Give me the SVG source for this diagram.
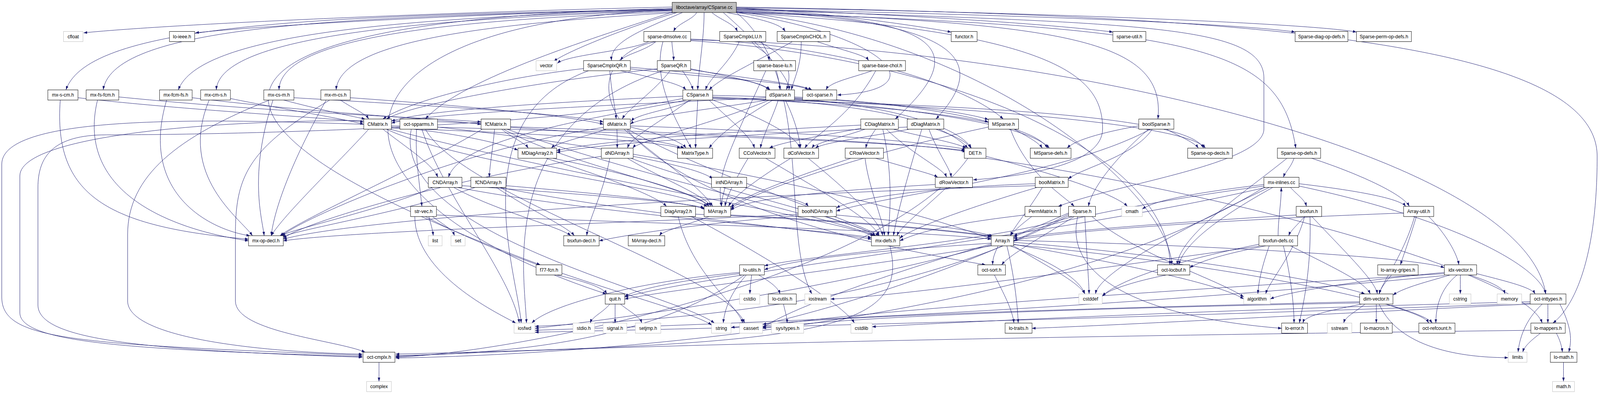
<svg xmlns="http://www.w3.org/2000/svg" width="4513" height="1008" viewBox="0 0 4513 1008">
<defs>
<marker id="a" markerWidth="10" markerHeight="7" refX="10" refY="3.5" orient="auto" markerUnits="userSpaceOnUse"><path d="M0,0L10,3.5L0,7z" fill="#191970"/></marker>
<style>
.e path{fill:none;stroke:#191970;stroke-width:1;marker-end:url(#a)}
.n rect{fill:#fff;stroke:#000;stroke-width:1}
.s rect{fill:#fff;stroke:#bfbfbf;stroke-width:1}
.r rect{fill:#bfbfbf;stroke:#000;stroke-width:1}
text{font-family:"Liberation Sans",Arial,Helvetica,sans-serif;font-size:13.33px;text-anchor:middle;fill:#000}
</style>
</defs>
<rect width="4513" height="1008" fill="#fff"/>
<g id="diagram" transform="scale(0.9076 1)">
<g id="connectors" class="e">
<path d="M1896,18 C1300,30 500,60 236,84"/>
<path d="M1896,22 C1400,35 800,60 551,84"/>
<path d="M1896,24 C900,40 250,60 186,230"/>
<path d="M1896,25 C1000,42 320,60 291,230"/>
<path d="M1896,26 C1100,45 560,90 503,230"/>
<path d="M1896,27 C1200,48 620,90 610,230"/>
<path d="M1900,30 C1300,50 790,90 787,230"/>
<path d="M1905,32 C1400,60 960,100 948,230"/>
<path d="M1910,32 C1800,60 1600,130 1562,157"/>
<path d="M1925,32 C1800,80 1720,110 1725,155"/>
<path d="M1965,32 C1955,50 1910,60 1900,80.5"/>
<path d="M1986,32 C1986,100 1970,180 1968,230"/>
<path d="M2008,32 C2030,50 2070,60 2080,80.5"/>
<path d="M2050,32 C2150,50 2200,60 2215,80.5"/>
<path d="M2077,20 C2300,30 2550,60 2683,82"/>
<path d="M2077,22 C2500,35 2950,60 3139,82"/>
<path d="M2077,24 C2800,35 3500,60 3653,82"/>
<path d="M2077,20 C2900,30 3700,60 3826,82"/>
<path d="M1900,30 C1700,90 1300,200 1200,304.5"/>
<path d="M2077,28 C2700,50 2800,150 2640,304.5"/>
<path d="M2077,26 C2650,45 2750,120 2525,304.5"/>
<path d="M2077,30 C3000,60 3290,100 3266,304.5"/>
<path d="M2077,32 C3400,70 3610,120 3655,379"/>
<path d="M2077,32 C2500,90 2650,230 2362,243"/>
<path d="M2040,32 C2150,120 2230,200 2225,230"/>
<path d="M2077,30 C2800,100 3300,500 3305,677.5"/>
<path d="M1896,22 C500,50 400,300 1524,677.5"/>
<path d="M1896,26 C860,60 860,500 1710,752"/>
<path d="M2077,32 C2300,200 2200,600 2290,752"/>
<path d="M2077,18 C3500,40 4505,100 4505,400 C4505,700 4420,800 4380,826.5"/>
<path d="M2077,32 C3000,80 3110,200 3110,330 C3110,420 2900,450 2745,460"/>
<path d="M2077,24 C3200,60 3565,60 3565,200 L3565,330 C3565,420 3150,470 2985,528"/>
<path d="M1830,106.5 C1780,130 1600,140 1572,162"/>
<path d="M1850,106.5 C1820,130 1760,140 1750,155"/>
<path d="M1895,106.5 C1897,130 1900,140 1900,155"/>
<path d="M1870,106.5 C1840,200 1900,300 1950,379"/>
<path d="M1948,100 C2300,110 2700,200 2830,304.5"/>
<path d="M1850,106.5 C1600,150 1600,500 2780,677.5"/>
<path d="M1948,104 C2700,150 3300,400 3300,677.5"/>
<path d="M1948,102 C3000,120 4300,400 4360,752"/>
<path d="M2120,106.5 C2140,130 2165,130 2170,155"/>
<path d="M2085,106.5 C2060,160 2000,200 1990,230"/>
<path d="M2140,106.5 C2240,150 2230,200 2218,230"/>
<path d="M2305,106.5 C2380,130 2440,140 2450,155"/>
<path d="M2235,106.5 C2150,150 2030,200 2000,230"/>
<path d="M2260,106.5 C2260,170 2240,200 2232,230"/>
<path d="M1720,181 C1725,240 1735,270 1738,304.5"/>
<path d="M1650,175 C1400,200 1150,260 1080,304.5"/>
<path d="M1778,172 C2000,190 2130,200 2170,230"/>
<path d="M1750,181 C1850,200 1920,215 1935,230"/>
<path d="M1778,176 C2000,200 2250,210 2280,230"/>
<path d="M1660,181 C1300,300 1460,700 1470,826.5"/>
<path d="M1890,181 C1850,230 1770,280 1755,304.5"/>
<path d="M1854,176 C1500,210 1150,270 1090,304.5"/>
<path d="M1948,176 C2050,195 2150,210 2172,230"/>
<path d="M1925,181 C1940,200 1950,215 1955,230"/>
<path d="M1948,178 C2100,200 2260,215 2290,230"/>
<path d="M1870,181 C1400,320 1480,700 1485,826.5"/>
<path d="M2190,181 C2195,200 2198,210 2200,230"/>
<path d="M2160,181 C2050,400 2020,450 2035,528"/>
<path d="M2460,181 C2400,200 2340,210 2330,230"/>
<path d="M2470,181 C2400,300 2290,350 2270,379"/>
<path d="M1950,256 C1900,280 1800,290 1780,310"/>
<path d="M1945,256 C1850,320 1780,350 1770,379"/>
<path d="M2000,256 C2050,300 2120,350 2128,379"/>
<path d="M2010,256 C2150,300 2250,350 2255,379"/>
<path d="M1926,252 C1500,330 600,345 300,345 C150,345 107,400 107,480 L107,780 C107,870 400,895 1022,914"/>
<path d="M2010,248 C2400,260 2650,300 2730,379"/>
<path d="M2010,244 C2400,250 2700,280 2788,306"/>
<path d="M2010,250 C2500,270 2900,300 2955,379"/>
<path d="M2010,252 C2800,270 3350,300 3395,379"/>
<path d="M1968,256 C1966,300 1962,340 1962,379"/>
<path d="M1926,246 C1600,260 1200,280 1104,310"/>
<path d="M1935,256 C1700,300 1300,350 1265,453.5"/>
<path d="M2165,256 C2000,280 1800,300 1778,318"/>
<path d="M2170,256 C2000,320 1800,360 1785,379"/>
<path d="M2160,250 C1700,270 1200,290 1104,315"/>
<path d="M2215,256 C2240,300 2255,350 2258,379"/>
<path d="M2195,256 C2180,300 2150,350 2145,379"/>
<path d="M2241,252 C2500,270 2700,320 2740,379"/>
<path d="M2241,248 C2500,260 2700,290 2788,312"/>
<path d="M2241,254 C2600,280 2900,320 2960,379"/>
<path d="M2241,256 C2800,280 3350,320 3400,379"/>
<path d="M2180,256 C2100,300 2030,340 2000,379"/>
<path d="M1090,330.5 C1300,420 1900,480 1995,528"/>
<path d="M1104,325 C1300,340 1420,370 1461,384"/>
<path d="M1104,328 C1500,340 1850,360 1920,379"/>
<path d="M1100,330.5 C1600,450 2300,550 2465,603"/>
<path d="M1040,330.5 C950,420 800,550 765,603"/>
<path d="M1026,318 C600,305 5,290 5,420 L5,760 C5,870 200,880 1022,909"/>
<path d="M1104,322 C1800,340 2500,360 2722,385"/>
<path d="M1080,330.5 C1150,380 1220,420 1235,453.5"/>
<path d="M1420,330.5 C1600,420 1950,480 2000,528"/>
<path d="M1415,330.5 C1440,350 1480,365 1490,379"/>
<path d="M1440,326 C1700,340 1880,360 1930,379"/>
<path d="M1430,330.5 C1800,450 2350,560 2470,603"/>
<path d="M1360,330.5 C1200,420 850,560 790,603"/>
<path d="M1357,316 C800,290 56,330 56,450 L56,800 C56,880 400,895 1022,912"/>
<path d="M1440,324 C1900,340 2550,360 2725,388"/>
<path d="M1395,330.5 C1390,380 1382,420 1380,453.5"/>
<path d="M1760,330.5 C1850,400 1980,480 2010,528"/>
<path d="M1710,330.5 C1650,350 1570,365 1555,379"/>
<path d="M1778,325 C1850,340 1920,360 1935,379"/>
<path d="M1770,330.5 C2000,450 2400,560 2480,603"/>
<path d="M1702,326 C1300,380 850,560 795,603"/>
<path d="M1778,322 C2200,335 2600,360 2725,382"/>
<path d="M1740,330.5 C1741,350 1741,360 1741,379"/>
<path d="M1200,330.5 C1300,500 2050,700 2100,826.5"/>
<path d="M1234,325 C2000,400 3000,600 3060,752"/>
<path d="M1190,330.5 C1250,500 1440,700 1465,826.5"/>
<path d="M1160,330.5 C1100,600 1900,750 2015,826.5"/>
<path d="M1175,330.5 C1170,400 1185,480 1190,528"/>
<path d="M2428,320 C2000,340 1700,360 1570,385"/>
<path d="M2500,330.5 C2580,400 2660,430 2670,453.5"/>
<path d="M2470,330.5 C2455,350 2445,365 2442,379"/>
<path d="M2440,330.5 C2380,350 2300,365 2290,379"/>
<path d="M2430,328 C2300,350 2200,365 2170,379"/>
<path d="M2520,330.5 C2600,350 2700,365 2725,379"/>
<path d="M2490,330.5 C2520,450 2510,550 2505,603"/>
<path d="M2559,325 C2100,345 1700,365 1570,390"/>
<path d="M2620,330.5 C2650,400 2680,430 2683,453.5"/>
<path d="M2565,330.5 C2450,350 2320,365 2300,379"/>
<path d="M2640,330.5 C2700,350 2730,365 2738,379"/>
<path d="M2600,330.5 C2560,450 2530,550 2520,603"/>
<path d="M2788,325 C2400,400 2100,500 2061,535"/>
<path d="M2850,330.5 C2900,450 3000,500 3030,528"/>
<path d="M2860,330.5 C2900,350 2930,365 2940,379"/>
<path d="M3240,330.5 C3150,400 3080,480 3070,528"/>
<path d="M3212,322 C3100,340 3030,360 3010,379"/>
<path d="M3290,330.5 C3330,350 3370,365 3380,379"/>
<path d="M3250,330.5 C3200,400 3050,430 3013,458"/>
<path d="M3245,330.5 C3000,450 2500,500 2359,540"/>
<path d="M1540,405 C1700,450 1850,500 1880,528"/>
<path d="M1560,405 C1800,450 1980,500 2000,528"/>
<path d="M1786,400 C1900,420 1990,440 2010,458"/>
<path d="M1770,405 C1850,450 1990,500 2005,528"/>
<path d="M1780,405 C2000,480 2400,560 2470,603"/>
<path d="M1696,400 C1300,450 850,570 799,610"/>
<path d="M1720,405 C1700,500 1660,560 1655,603"/>
<path d="M2110,405 C2080,450 2050,500 2045,528"/>
<path d="M2160,405 C2300,480 2460,560 2480,603"/>
<path d="M2230,405 C2150,450 2070,500 2055,528"/>
<path d="M2280,405 C2380,480 2480,560 2490,603"/>
<path d="M2400,405 C2250,450 2100,500 2061,530"/>
<path d="M2470,405 C2560,430 2630,445 2645,453.5"/>
<path d="M2440,405 C2450,480 2490,560 2495,603"/>
<path d="M2781,400 C3000,450 3150,500 3180,528"/>
<path d="M2730,405 C2500,700 1500,900 1116,914"/>
<path d="M2781,405 C3500,500 4300,700 4350,826.5"/>
<path d="M3700,405 C3850,450 3960,500 3975,528"/>
<path d="M3630,405 C3500,500 3330,600 3320,677.5"/>
<path d="M3650,405 C3640,430 3625,440 3620,453.5"/>
<path d="M1303,475 C1700,500 1950,520 1986,532"/>
<path d="M1290,479.5 C1700,550 2350,590 2458,608"/>
<path d="M1220,479.5 C1100,530 850,580 790,603"/>
<path d="M1280,479.5 C1400,540 1580,580 1610,603"/>
<path d="M1427,475 C1750,500 1960,520 1988,536"/>
<path d="M1410,479.5 C1800,550 2370,595 2458,612"/>
<path d="M1340,479.5 C1150,540 850,585 795,606"/>
<path d="M1400,479.5 C1500,540 1600,580 1620,603"/>
<path d="M2045,479.5 C2040,500 2035,510 2035,528"/>
<path d="M2100,479.5 C2200,500 2270,515 2280,528"/>
<path d="M2638,472 C2300,490 2100,510 2061,538"/>
<path d="M2670,479.5 C2600,540 2540,580 2530,603"/>
<path d="M2940,479.5 C2900,540 2860,580 2850,603"/>
<path d="M2925,479.5 C2700,540 2560,590 2538,610"/>
<path d="M2920,475 C2000,500 1000,560 799,612"/>
<path d="M2920,470 C2600,480 2400,510 2359,532"/>
<path d="M3580,479.5 C3300,600 3100,700 3090,752"/>
<path d="M3565,472 C3400,490 3260,510 3222,535"/>
<path d="M3570,479.5 C3000,600 2000,700 1762,760"/>
<path d="M3565,479.5 C3000,800 1800,905 1116,916"/>
<path d="M3590,479.5 C3450,550 3340,620 3325,677.5"/>
<path d="M3664,476 C4100,560 4340,680 4360,752"/>
<path d="M3565,476 C3200,520 2900,580 2859,608"/>
<path d="M3664,470 C3850,490 3950,510 3965,528"/>
<path d="M3640,479.5 C3660,500 3680,510 3685,528"/>
<path d="M1170,554 C1170,700 1400,800 1455,826.5"/>
<path d="M1210,554 C1215,575 1220,585 1222,603"/>
<path d="M1220,554 C1250,575 1275,585 1282,603"/>
<path d="M1200,554 C1500,700 1950,790 2007,832"/>
<path d="M1231,550 C1800,570 2600,590 2796,612"/>
<path d="M1913,554 C1950,700 2080,780 2095,826.5"/>
<path d="M1950,554 C2150,650 2380,780 2410,826.5"/>
<path d="M1962,548 C2300,560 2700,590 2796,606"/>
<path d="M2061,550 C2400,565 2700,590 2796,604"/>
<path d="M2000,554 C1940,575 1870,590 1860,603"/>
<path d="M2359,550 C2600,570 2750,590 2800,604"/>
<path d="M2330,554 C2400,575 2450,590 2470,603"/>
<path d="M2251,548 C1800,570 1000,590 799,616"/>
<path d="M2251,552 C2000,570 1800,595 1690,616"/>
<path d="M2910,554 C2880,575 2860,590 2850,603"/>
<path d="M2891,550 C2700,570 2600,590 2538,616"/>
<path d="M3014,548 C2700,700 2300,800 2151,830"/>
<path d="M3060,554 C3065,650 3070,700 3072,752"/>
<path d="M3014,552 C2500,800 1800,820 1509,835"/>
<path d="M3080,554 C3200,650 3450,720 3508,760"/>
<path d="M3014,545 C2950,570 2900,590 2859,603"/>
<path d="M3040,554 C3000,700 3200,810 3615,840"/>
<path d="M3025,554 C2800,620 2300,650 2156,680"/>
<path d="M3030,554 C2950,600 2850,650 2825,677.5"/>
<path d="M3680,554 C3650,650 3580,720 3570,752"/>
<path d="M3656,550 C3300,570 3000,590 2859,610"/>
<path d="M3700,554 C3800,650 3880,720 3885,752"/>
<path d="M3695,554 C3700,700 3670,800 3665,826.5"/>
<path d="M3680,554 C3660,575 3640,590 3635,603"/>
<path d="M3959,545 C3500,560 3000,590 2859,615"/>
<path d="M3990,554 C3960,650 3900,720 3890,752"/>
<path d="M4030,554 C4080,600 4110,650 4115,677.5"/>
<path d="M3995,554 C3980,600 3960,650 3950,677.5"/>
<path d="M2796,624 C2500,700 2200,800 2151,840"/>
<path d="M2859,629 C2950,680 3040,720 3060,752"/>
<path d="M2859,625 C3200,680 3450,730 3508,765"/>
<path d="M2796,627 C2300,750 1700,820 1509,840"/>
<path d="M2859,620 C3300,650 3750,720 3850,752"/>
<path d="M2859,615 C3500,630 4000,660 4074,685"/>
<path d="M2840,629 C2860,700 2870,780 2872,826.5"/>
<path d="M2796,622 C2500,640 2250,660 2156,690"/>
<path d="M2815,629 C2805,650 2800,660 2800,677.5"/>
<path d="M2796,629 C2300,700 1900,740 1762,765"/>
<path d="M2859,626 C3500,680 4000,780 4040,826.5"/>
<path d="M3640,629 C3750,680 3850,720 3865,752"/>
<path d="M3570,629 C3450,650 3380,670 3356,685"/>
<path d="M3620,629 C3640,700 3650,780 3650,826.5"/>
<path d="M3605,603 C3605,560 3614,520 3614,479.5"/>
<path d="M3580,629 C3560,680 3550,720 3548,752"/>
<path d="M3551,625 C3300,670 3150,720 3109,758"/>
<path d="M3551,630 C3000,700 2500,760 2343,765"/>
<path d="M2510,629 C2570,850 2300,880 1116,906"/>
<path d="M1570,703.5 C1650,720 1700,735 1712,752"/>
<path d="M2120,703.5 C2118,720 2116,735 2115,752"/>
<path d="M2086,697 C1800,720 1550,780 1500,826.5"/>
<path d="M2105,703.5 C2070,740 2045,780 2040,826.5"/>
<path d="M2100,703.5 C1800,900 1300,905 1116,910"/>
<path d="M2140,703.5 C2170,720 2195,735 2200,752"/>
<path d="M2086,700 C1900,720 1800,740 1762,758"/>
<path d="M2805,703.5 C2830,750 2855,790 2860,826.5"/>
<path d="M3290,703.5 C3200,720 3130,740 3109,757"/>
<path d="M3925,703.5 C3910,720 3895,735 3890,752"/>
<path d="M4074,700 C3000,760 2400,800 2151,835"/>
<path d="M4119,703.5 C4119,720 4119,735 4119,752"/>
<path d="M4074,697 C3800,720 3620,750 3583,765"/>
<path d="M4074,705 C3000,800 2000,830 1509,845"/>
<path d="M4145,703.5 C4200,720 4240,735 4245,752"/>
<path d="M4090,703.5 C4030,720 3960,735 3929,755"/>
<path d="M4165,700 C4250,720 4320,735 4330,752"/>
<path d="M4110,703.5 C4060,740 4050,790 4050,826.5"/>
<path d="M1720,778 C1700,800 1670,810 1665,826.5"/>
<path d="M1735,778 C1735,800 1735,810 1735,826.5"/>
<path d="M1750,778 C1780,800 1805,810 1810,826.5"/>
<path d="M2210,778 C2215,800 2220,810 2220,826.5"/>
<path d="M3835,775 C3000,790 2400,810 2151,840"/>
<path d="M3850,778 C3820,800 3795,810 3790,826.5"/>
<path d="M3835,772 C3000,790 2300,810 2062,838"/>
<path d="M3890,778 C3950,900 4150,915 4254,915"/>
<path d="M3840,778 C3720,800 3680,810 3675,826.5"/>
<path d="M3882,778 C3882,800 3882,810 3882,826.5"/>
<path d="M3910,778 C3980,800 4020,810 4030,826.5"/>
<path d="M4316,772 C3500,790 2800,820 2460,836"/>
<path d="M4350,778 C4300,820 4285,870 4282,901"/>
<path d="M4316,776 C3000,820 2000,840 1509,850"/>
<path d="M4316,778 C3800,800 3200,830 2911,840"/>
<path d="M4400,778 C4440,850 4430,880 4425,901"/>
<path d="M4366,778 C4366,800 4366,810 4366,826.5"/>
<path d="M4345,852.5 C4320,870 4300,885 4295,901"/>
<path d="M4318,845 C3000,860 1800,880 1116,912"/>
<path d="M4390,852.5 C4400,870 4405,885 4407,901"/>
<path d="M4410,927 C4410,950 4410,960 4410,976"/>
<path d="M1069,927 C1069,950 1069,960 1069,976"/>
<path d="M220,250 C500,280 900,300 1026,312"/>
<path d="M170,256 C150,500 300,580 701,612"/>
<path d="M335,248 C800,290 1200,300 1357,312"/>
<path d="M275,256 C210,500 500,590 701,616"/>
<path d="M542,250 C900,290 1250,305 1357,318"/>
<path d="M470,256 C390,500 600,590 705,603"/>
<path d="M650,252 C800,280 950,300 1026,318"/>
<path d="M590,256 C500,450 680,560 712,603"/>
<path d="M800,256 C900,280 980,295 1030,304.5"/>
<path d="M829,250 C1200,270 1600,290 1702,312"/>
<path d="M770,256 C700,450 740,560 745,603"/>
<path d="M760,256 C500,350 360,450 360,600 L360,770 C360,860 700,900 1022,906"/>
<path d="M960,256 C1000,280 1030,290 1040,304.5"/>
<path d="M988,250 C1300,270 1600,295 1702,318"/>
<path d="M920,256 C800,450 770,560 765,603"/>
<path d="M930,256 C700,380 664,450 664,600 L664,770 C664,850 950,870 1030,901"/>
</g>
<g id="nodes">
<g id="n_root" class="r"><rect x="1896" y="6" width="181" height="26"/><text x="1986.5" y="23.5">liboctave/array/CSparse.cc</text></g>
<g id="n_cfloat" class="s"><rect x="179" y="80.5" width="55" height="26"/><text x="206.5" y="98">cfloat</text></g>
<g id="n_lo_ieee" class="n"><rect x="478" y="80.5" width="71" height="26"/><text x="513.5" y="98">lo-ieee.h</text></g>
<g id="n_sparse_dmsolve" class="n"><rect x="1816" y="80.5" width="132" height="26"/><text x="1882" y="98">sparse-dmsolve.cc</text></g>
<g id="n_SparseCmplxLU" class="n"><rect x="2030" y="80.5" width="130" height="26"/><text x="2095" y="98">SparseCmplxLU.h</text></g>
<g id="n_SparseCmplxCHOL" class="n"><rect x="2192" y="80.5" width="149" height="26"/><text x="2266.5" y="98">SparseCmplxCHOL.h</text></g>
<g id="n_functor" class="n"><rect x="2683" y="80.5" width="73" height="26"/><text x="2719.5" y="98">functor.h</text></g>
<g id="n_sparse_util" class="n"><rect x="3139" y="80.5" width="93" height="26"/><text x="3185.5" y="98">sparse-util.h</text></g>
<g id="n_Sparse_diag_op_defs" class="n"><rect x="3653" y="80.5" width="149" height="26"/><text x="3727.5" y="98">Sparse-diag-op-defs.h</text></g>
<g id="n_Sparse_perm_op_defs" class="n"><rect x="3826" y="80.5" width="155" height="26"/><text x="3903.5" y="98">Sparse-perm-op-defs.h</text></g>
<g id="n_vector" class="s"><rect x="1512" y="155" width="58" height="26"/><text x="1541" y="172.5">vector</text></g>
<g id="n_SparseCmplxQR" class="n"><rect x="1646" y="155" width="132" height="26"/><text x="1712" y="172.5">SparseCmplxQR.h</text></g>
<g id="n_SparseQR" class="n"><rect x="1854" y="155" width="94" height="26"/><text x="1901" y="172.5">SparseQR.h</text></g>
<g id="n_sparse_base_lu" class="n"><rect x="2126" y="155" width="118" height="26"/><text x="2185" y="172.5">sparse-base-lu.h</text></g>
<g id="n_sparse_base_chol" class="n"><rect x="2422" y="155" width="132" height="26"/><text x="2488" y="172.5">sparse-base-chol.h</text></g>
<g id="n_mx_s_cm" class="n"><rect x="135" y="230" width="85" height="26"/><text x="177.5" y="247.5">mx-s-cm.h</text></g>
<g id="n_mx_fs_fcm" class="n"><rect x="243" y="230" width="92" height="26"/><text x="289" y="247.5">mx-fs-fcm.h</text></g>
<g id="n_mx_fcm_fs" class="n"><rect x="450" y="230" width="92" height="26"/><text x="496" y="247.5">mx-fcm-fs.h</text></g>
<g id="n_mx_cm_s" class="n"><rect x="566" y="230" width="84" height="26"/><text x="608" y="247.5">mx-cm-s.h</text></g>
<g id="n_mx_cs_m" class="n"><rect x="744" y="230" width="85" height="26"/><text x="786.5" y="247.5">mx-cs-m.h</text></g>
<g id="n_mx_m_cs" class="n"><rect x="905" y="230" width="83" height="26"/><text x="946.5" y="247.5">mx-m-cs.h</text></g>
<g id="n_CSparse_h" class="n"><rect x="1926" y="230" width="84" height="26"/><text x="1968" y="247.5">CSparse.h</text></g>
<g id="n_dSparse" class="n"><rect x="2160" y="230" width="81" height="26"/><text x="2200.5" y="247.5">dSparse.h</text></g>
<g id="n_oct_sparse" class="n"><rect x="2264" y="230" width="96" height="26"/><text x="2312" y="247.5">oct-sparse.h</text></g>
<g id="n_CMatrix" class="n"><rect x="1026" y="304.5" width="78" height="26"/><text x="1065" y="322">CMatrix.h</text></g>
<g id="n_oct_spparms" class="n"><rect x="1128" y="304.5" width="106" height="26"/><text x="1181" y="322">oct-spparms.h</text></g>
<g id="n_fCMatrix" class="n"><rect x="1357" y="304.5" width="83" height="26"/><text x="1398.5" y="322">fCMatrix.h</text></g>
<g id="n_dMatrix" class="n"><rect x="1702" y="304.5" width="76" height="26"/><text x="1740" y="322">dMatrix.h</text></g>
<g id="n_CDiagMatrix" class="n"><rect x="2428" y="304.5" width="106" height="26"/><text x="2481" y="322">CDiagMatrix.h</text></g>
<g id="n_dDiagMatrix" class="n"><rect x="2559" y="304.5" width="103" height="26"/><text x="2610.5" y="322">dDiagMatrix.h</text></g>
<g id="n_MSparse" class="n"><rect x="2788" y="304.5" width="85" height="26"/><text x="2830.5" y="322">MSparse.h</text></g>
<g id="n_boolSparse" class="n"><rect x="3212" y="304.5" width="99" height="26"/><text x="3261.5" y="322">boolSparse.h</text></g>
<g id="n_MDiagArray2" class="n"><rect x="1461" y="379" width="109" height="26"/><text x="1515.5" y="396.5">MDiagArray2.h</text></g>
<g id="n_dNDArray" class="n"><rect x="1696" y="379" width="90" height="26"/><text x="1741" y="396.5">dNDArray.h</text></g>
<g id="n_MatrixType" class="n"><rect x="1911" y="379" width="99" height="26"/><text x="1960.5" y="396.5">MatrixType.h</text></g>
<g id="n_CColVector" class="n"><rect x="2085" y="379" width="101" height="26"/><text x="2135.5" y="396.5">CColVector.h</text></g>
<g id="n_dColVector" class="n"><rect x="2211" y="379" width="98" height="26"/><text x="2260" y="396.5">dColVector.h</text></g>
<g id="n_CRowVector" class="n"><rect x="2384" y="379" width="108" height="26"/><text x="2438" y="396.5">CRowVector.h</text></g>
<g id="n_DET" class="n"><rect x="2720" y="379" width="61" height="26"/><text x="2750.5" y="396.5">DET.h</text></g>
<g id="n_MSparse_defs" class="n"><rect x="2906" y="379" width="115" height="26"/><text x="2963.5" y="396.5">MSparse-defs.h</text></g>
<g id="n_Sparse_op_decls" class="n"><rect x="3350" y="379" width="126" height="26"/><text x="3413" y="396.5">Sparse-op-decls.h</text></g>
<g id="n_Sparse_op_defs" class="n"><rect x="3603" y="379" width="122" height="26"/><text x="3664" y="396.5">Sparse-op-defs.h</text></g>
<g id="n_CNDArray" class="n"><rect x="1208" y="453.5" width="95" height="26"/><text x="1255.5" y="471">CNDArray.h</text></g>
<g id="n_fCNDArray" class="n"><rect x="1328" y="453.5" width="99" height="26"/><text x="1377.5" y="471">fCNDArray.h</text></g>
<g id="n_intNDArray" class="n"><rect x="2007" y="453.5" width="99" height="26"/><text x="2056.5" y="471">intNDArray.h</text></g>
<g id="n_dRowVector" class="n"><rect x="2638" y="453.5" width="105" height="26"/><text x="2690.5" y="471">dRowVector.h</text></g>
<g id="n_boolMatrix" class="n"><rect x="2920" y="453.5" width="93" height="26"/><text x="2966.5" y="471">boolMatrix.h</text></g>
<g id="n_mx_inlines" class="n"><rect x="3565" y="453.5" width="99" height="26"/><text x="3614.5" y="471">mx-inlines.cc</text></g>
<g id="n_str_vec" class="n"><rect x="1158" y="528" width="73" height="26"/><text x="1194.5" y="545.5">str-vec.h</text></g>
<g id="n_DiagArray2" class="n"><rect x="1864" y="528" width="98" height="26"/><text x="1913" y="545.5">DiagArray2.h</text></g>
<g id="n_MArray" class="n"><rect x="1986" y="528" width="75" height="26"/><text x="2023.5" y="545.5">MArray.h</text></g>
<g id="n_boolNDArray" class="n"><rect x="2251" y="528" width="108" height="26"/><text x="2305" y="545.5">boolNDArray.h</text></g>
<g id="n_PermMatrix" class="n"><rect x="2891" y="528" width="100" height="26"/><text x="2941" y="545.5">PermMatrix.h</text></g>
<g id="n_Sparse_h" class="n"><rect x="3014" y="528" width="76" height="26"/><text x="3052" y="545.5">Sparse.h</text></g>
<g id="n_cmath" class="s"><rect x="3164" y="528" width="58" height="26"/><text x="3193" y="545.5">cmath</text></g>
<g id="n_bsxfun" class="n"><rect x="3656" y="528" width="72" height="26"/><text x="3692" y="545.5">bsxfun.h</text></g>
<g id="n_Array_util" class="n"><rect x="3959" y="528" width="85" height="26"/><text x="4001.5" y="545.5">Array-util.h</text></g>
<g id="n_mx_op_decl" class="n"><rect x="701" y="603" width="98" height="26"/><text x="750" y="620.5">mx-op-decl.h</text></g>
<g id="n_list" class="s"><rect x="1208" y="603" width="39" height="26"/><text x="1227.5" y="620.5">list</text></g>
<g id="n_set" class="s"><rect x="1272" y="603" width="40" height="26"/><text x="1292" y="620.5">set</text></g>
<g id="n_bsxfun_decl" class="n"><rect x="1590" y="603" width="100" height="26"/><text x="1640" y="620.5">bsxfun-decl.h</text></g>
<g id="n_MArray_decl" class="n"><rect x="1772" y="603" width="103" height="26"/><text x="1823.5" y="620.5">MArray-decl.h</text></g>
<g id="n_mx_defs" class="n"><rect x="2458" y="603" width="80" height="26"/><text x="2498" y="620.5">mx-defs.h</text></g>
<g id="n_Array" class="n"><rect x="2796" y="603" width="63" height="26"/><text x="2827.5" y="620.5">Array.h</text></g>
<g id="n_bsxfun_defs" class="n"><rect x="3551" y="603" width="109" height="26"/><text x="3605.5" y="620.5">bsxfun-defs.cc</text></g>
<g id="n_f77_fcn" class="n"><rect x="1512" y="677.5" width="73" height="26"/><text x="1548.5" y="695">f77-fcn.h</text></g>
<g id="n_lo_utils" class="n"><rect x="2086" y="677.5" width="70" height="26"/><text x="2121" y="695">lo-utils.h</text></g>
<g id="n_oct_sort" class="n"><rect x="2758" y="677.5" width="78" height="26"/><text x="2797" y="695">oct-sort.h</text></g>
<g id="n_oct_locbuf" class="n"><rect x="3265" y="677.5" width="91" height="26"/><text x="3310.5" y="695">oct-locbuf.h</text></g>
<g id="n_lo_array_gripes" class="n"><rect x="3886" y="677.5" width="114" height="26"/><text x="3943" y="695">lo-array-gripes.h</text></g>
<g id="n_idx_vector" class="n"><rect x="4074" y="677.5" width="91" height="26"/><text x="4119.5" y="695">idx-vector.h</text></g>
<g id="n_quit" class="n"><rect x="1707" y="752" width="55" height="26"/><text x="1734.5" y="769.5">quit.h</text></g>
<g id="n_cstdio" class="s"><rect x="2086" y="752" width="57" height="26"/><text x="2114.5" y="769.5">cstdio</text></g>
<g id="n_lo_cutils" class="n"><rect x="2167" y="752" width="79" height="26"/><text x="2206.5" y="769.5">lo-cutils.h</text></g>
<g id="n_iostream" class="s"><rect x="2270" y="752" width="73" height="26"/><text x="2306.5" y="769.5">iostream</text></g>
<g id="n_cstddef" class="s"><rect x="3043" y="752" width="66" height="26"/><text x="3076" y="769.5">cstddef</text></g>
<g id="n_algorithm" class="s"><rect x="3508" y="752" width="75" height="26"/><text x="3545.5" y="769.5">algorithm</text></g>
<g id="n_dim_vector" class="n"><rect x="3835" y="752" width="94" height="26"/><text x="3882" y="769.5">dim-vector.h</text></g>
<g id="n_cstring" class="s"><rect x="4088" y="752" width="61" height="26"/><text x="4118.5" y="769.5">cstring</text></g>
<g id="n_memory" class="s"><rect x="4223" y="752" width="69" height="26"/><text x="4257.5" y="769.5">memory</text></g>
<g id="n_oct_inttypes" class="n"><rect x="4316" y="752" width="101" height="26"/><text x="4366.5" y="769.5">oct-inttypes.h</text></g>
<g id="n_iosfwd" class="s"><rect x="1450" y="826.5" width="59" height="26"/><text x="1479.5" y="844">iosfwd</text></g>
<g id="n_stdio" class="s"><rect x="1616" y="826.5" width="61" height="26"/><text x="1646.5" y="844">stdio.h</text></g>
<g id="n_signal" class="s"><rect x="1701" y="826.5" width="67" height="26"/><text x="1734.5" y="844">signal.h</text></g>
<g id="n_setjmp" class="s"><rect x="1792" y="826.5" width="72" height="26"/><text x="1828" y="844">setjmp.h</text></g>
<g id="n_string" class="s"><rect x="2007" y="826.5" width="55" height="26"/><text x="2034.5" y="844">string</text></g>
<g id="n_cassert" class="s"><rect x="2086" y="826.5" width="65" height="26"/><text x="2118.5" y="844">cassert</text></g>
<g id="n_sys_types" class="s"><rect x="2176" y="826.5" width="91" height="26"/><text x="2221.5" y="844">sys/types.h</text></g>
<g id="n_cstdlib" class="s"><rect x="2400" y="826.5" width="60" height="26"/><text x="2430" y="844">cstdlib</text></g>
<g id="n_lo_traits" class="n"><rect x="2835" y="826.5" width="76" height="26"/><text x="2873" y="844">lo-traits.h</text></g>
<g id="n_lo_error" class="n"><rect x="3615" y="826.5" width="73" height="26"/><text x="3651.5" y="844">lo-error.h</text></g>
<g id="n_sstream" class="s"><rect x="3744" y="826.5" width="69" height="26"/><text x="3778.5" y="844">sstream</text></g>
<g id="n_lo_macros" class="n"><rect x="3837" y="826.5" width="90" height="26"/><text x="3882" y="844">lo-macros.h</text></g>
<g id="n_oct_refcount" class="n"><rect x="4002" y="826.5" width="102" height="26"/><text x="4053" y="844">oct-refcount.h</text></g>
<g id="n_lo_mappers" class="n"><rect x="4318" y="826.5" width="97" height="26"/><text x="4366.5" y="844">lo-mappers.h</text></g>
<g id="n_oct_cmplx" class="n"><rect x="1024" y="901" width="90" height="26"/><text x="1069" y="918.5">oct-cmplx.h</text></g>
<g id="n_limits" class="s"><rect x="4254" y="901" width="53" height="26"/><text x="4280.5" y="918.5">limits</text></g>
<g id="n_lo_math" class="n"><rect x="4373" y="901" width="75" height="26"/><text x="4410.5" y="918.5">lo-math.h</text></g>
<g id="n_complex" class="s"><rect x="1034" y="976" width="70" height="26"/><text x="1069" y="993.5">complex</text></g>
<g id="n_math" class="s"><rect x="4379" y="976" width="62" height="26"/><text x="4410" y="993.5">math.h</text></g>
</g>
</g>
</svg>
